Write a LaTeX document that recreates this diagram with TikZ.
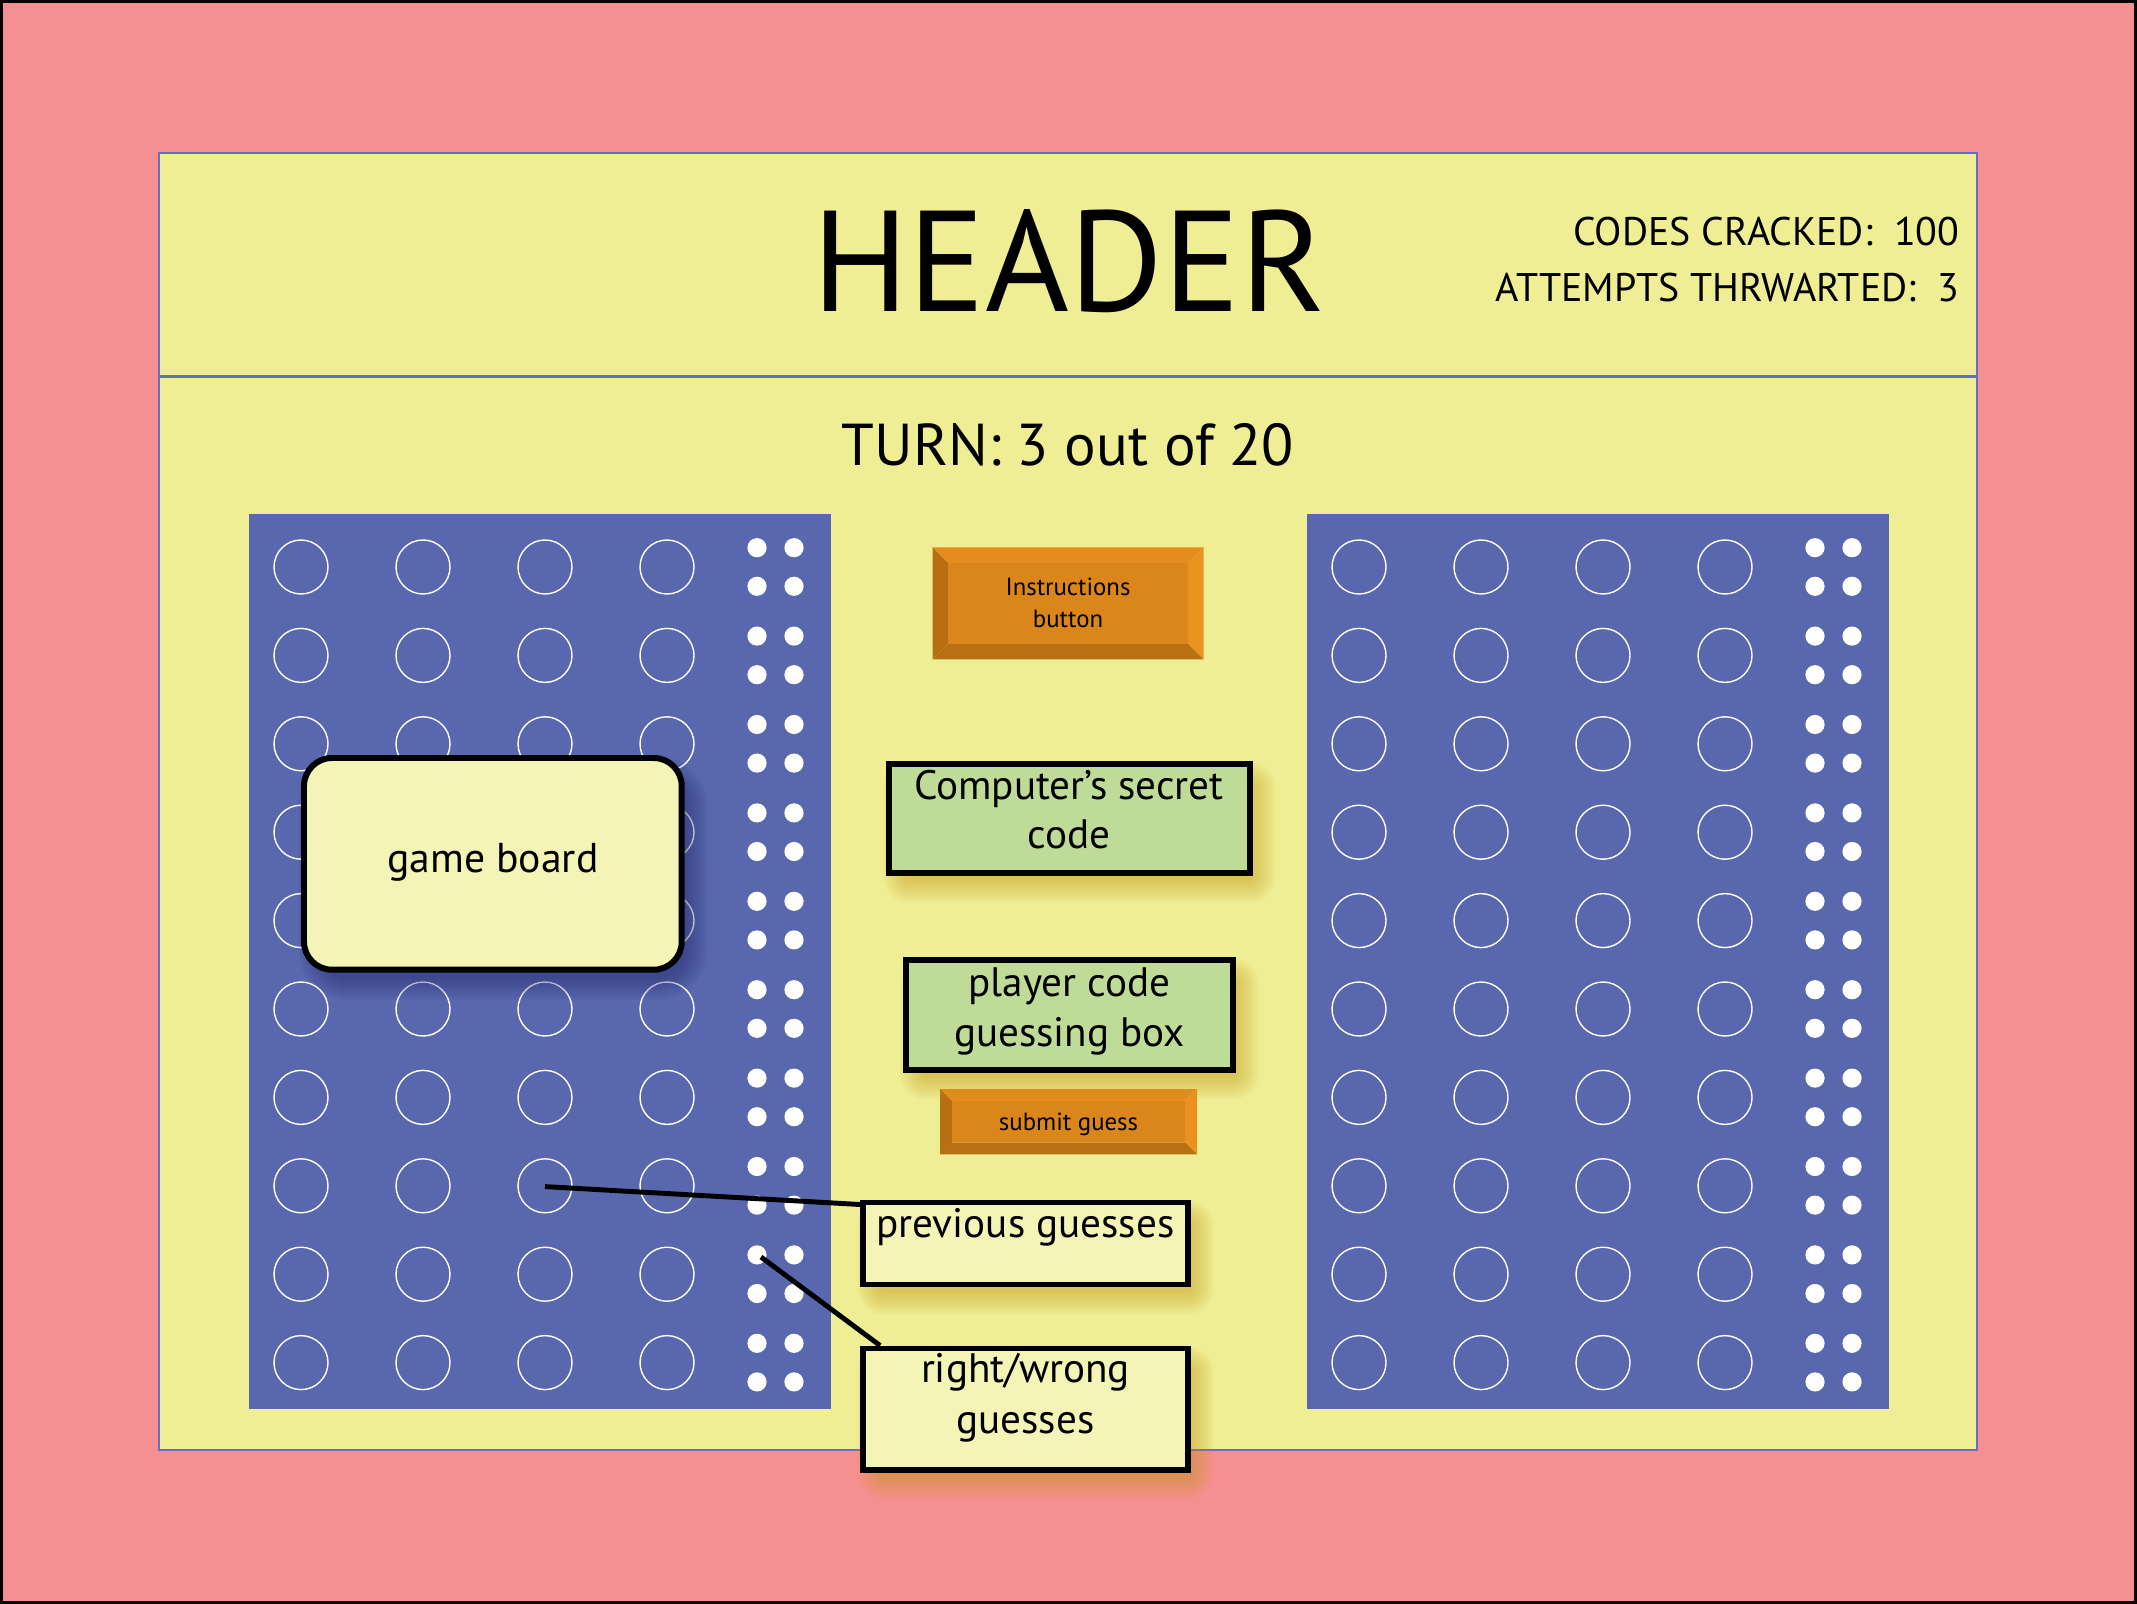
\documentclass[tikz,border=0pt]{standalone}
\usepackage{fontspec}
\setmainfont{PT Sans}
\definecolor{pinkbg}{RGB}{245,144,146}
\definecolor{panel}{RGB}{239,238,148}
\definecolor{panelline}{RGB}{100,110,200}
\definecolor{board}{RGB}{88,103,174}
\definecolor{lightbox}{RGB}{243,244,182}
\definecolor{greenbox}{RGB}{190,220,152}
\definecolor{btnface}{RGB}{219,134,26}
\definecolor{btntop}{RGB}{228,141,30}
\definecolor{btnright}{RGB}{234,146,32}
\definecolor{btnbot}{RGB}{185,112,18}
\definecolor{btnleft}{RGB}{184,111,18}
\definecolor{shyel}{RGB}{200,150,20}
\definecolor{shblue}{RGB}{35,35,100}
\newcommand\softshadow[6]{%
  \foreach \k in {-6,-4,...,16}{%
    \pgfmathsetmacro\rc{max(0.5,#6+\k+6)}%
    \fill[#1,opacity=0.045,rounded corners=\rc*0.01cm]
      ({#2+10-\k},{#3+14-\k}) rectangle ({#4+10+\k},{#5+14+\k});}}
\newcommand\bevelbtn[5]{% x1 y1 x2 y2 bevel
  \fill[btntop] (#1,#2) -- (#3,#2) -- ({#3-#5},{#2+#5}) -- ({#1+#5},{#2+#5}) -- cycle;
  \fill[btnright] (#3,#2) -- (#3,#4) -- ({#3-#5},{#4-#5}) -- ({#3-#5},{#2+#5}) -- cycle;
  \fill[btnbot] (#1,#4) -- (#3,#4) -- ({#3-#5},{#4-#5}) -- ({#1+#5},{#4-#5}) -- cycle;
  \fill[btnleft] (#1,#2) -- ({#1+#5},{#2+#5}) -- ({#1+#5},{#4-#5}) -- (#1,#4) -- cycle;
  \fill[btnface] ({#1+#5},{#2+#5}) rectangle ({#3-#5},{#4-#5});}
\tikzset{
  hole/.style={draw=white,line width=0.4pt},
  peg/.style={fill=white},
  ybox/.style={draw=black,line width=1.7pt,fill=lightbox,inner sep=0pt},
  gbox/.style={draw=black,line width=1.7pt,fill=greenbox,inner sep=0pt},
  conn/.style={draw=black,line width=1.4pt},
  lbl/.style={anchor=base,inner sep=0pt,font=\fontsize{11.7}{14}\selectfont},
  btxt/.style={anchor=base,inner sep=0pt,font=\fontsize{7.05}{8.5}\selectfont},
}
\begin{document}
\begin{tikzpicture}[x=0.01cm,y=-0.01cm]
\useasboundingbox (0,0) rectangle (2137,1604);
% background
\fill[pinkbg] (0,0) rectangle (2137,1604);
\draw[black,line width=0.8pt] (1.5,1.5) rectangle (2135.5,1602.5);
% panel
\draw[panelline,line width=0.6pt,fill=panel] (159,153) rectangle (1977,1450);
\draw[panelline,line width=0.6pt] (159,376.5) -- (1977,376.5);
% header texts
\node[anchor=base,inner sep=0pt,font=\fontsize{40.8}{43}\selectfont] (hdr) at (1069,311.7) {HEADER};
\node[anchor=base east,inner sep=0pt,font=\fontsize{11.35}{13}\selectfont] (codes) at (1960,245.7) {CODES CRACKED:\ \ 100};
\node[anchor=base east,inner sep=0pt,font=\fontsize{11.35}{13}\selectfont] (attempts) at (1960,301.7) {ATTEMPTS THRWARTED:\ \ 3};
\node[anchor=base,inner sep=0pt,font=\fontsize{16.8}{19}\selectfont] (turn) at (1068,466) {TURN: 3 out of 20};
% boards
\foreach \bx in {249,1307}{
  \fill[board] (\bx,514) rectangle ({\bx+582},1409);
  \foreach \j in {0,...,9}{
    \pgfmathsetmacro\ry{567+88.4*\j}
    \foreach \i in {0,...,3}{
      \draw[hole] ({\bx+52+122*\i},\ry) circle[radius=27];
    }
    \foreach \dx in {508,545}{
      \fill[peg] ({\bx+\dx},{\ry-19.3}) circle[radius=9.6];
      \fill[peg] ({\bx+\dx},{\ry+19.3}) circle[radius=9.6];
    }
  }
}
\coordinate (pg) at (545,1186.6);
\coordinate (dotrw) at (761,1257);
% instructions button
\bevelbtn{932.5}{547.5}{1203.5}{659.5}{15.5}
\node[inner sep=0pt,minimum width=0.01cm*271,minimum height=0.01cm*112] (instr) at (1068,603.5) {};
\node[btxt] (instr1) at (1068,595.7) {Instructions};
\node[btxt] (instr2) at (1068,627.3) {button};
% submit button
\bevelbtn{940}{1089}{1197}{1154.3}{12}
\node[inner sep=0pt,minimum width=0.01cm*257,minimum height=0.01cm*65] (submit) at (1068.5,1121.6) {};
\node[btxt] (submittxt) at (1068.5,1130) {submit guess};
% computer's secret code
\softshadow{shyel}{889}{763.7}{1249.7}{872.7}{4}
\node[gbox,minimum width=0.01cm*360.7,minimum height=0.01cm*109] (secret) at (1069.35,818.2) {};
\node[lbl] (secret1) at (1069,800) {Computer’s secret};
\node[lbl] (secret2) at (1069,848) {code};
% player code guessing box
\softshadow{shyel}{906}{960}{1233}{1069.7}{4}
\node[gbox,minimum width=0.01cm*327,minimum height=0.01cm*109.7] (player) at (1069.5,1014.85) {};
\node[lbl] (player1) at (1069.5,996.7) {player code};
\node[lbl] (player2) at (1069.5,1046) {guessing box};
% previous guesses box
\softshadow{shyel}{863}{1202.5}{1188}{1284.5}{4}
\node[ybox,minimum width=0.01cm*325,minimum height=0.01cm*82] (prev) at (1025.5,1243.5) {};
\node[lbl] (prevtxt) at (1025.5,1237) {previous guesses};
% right/wrong box
\softshadow{shyel}{863}{1348.5}{1188}{1470}{4}
\node[ybox,minimum width=0.01cm*325,minimum height=0.01cm*121.5] (rw) at (1025.5,1409.25) {};
\node[lbl] (rw1) at (1025.5,1382) {right/wrong};
\node[lbl] (rw2) at (1025.5,1433) {guesses};
% connectors
\draw[conn] (pg) -- ([yshift=-0.05cm]prev.north west);
\draw[conn] (dotrw) -- ([xshift=0.2cm]rw.north west);
% game board callout
\softshadow{shblue}{304}{758}{681.7}{969.7}{28}
\node[ybox,rounded corners=0.28cm,minimum width=0.01cm*377.7,minimum height=0.01cm*211.7] (gb) at (492.85,863.85) {};
\node[anchor=base,inner sep=0pt,font=\fontsize{11.85}{14}\selectfont] (gbtxt) at (492.85,872.7) {game board};
\end{tikzpicture}
\end{document}
